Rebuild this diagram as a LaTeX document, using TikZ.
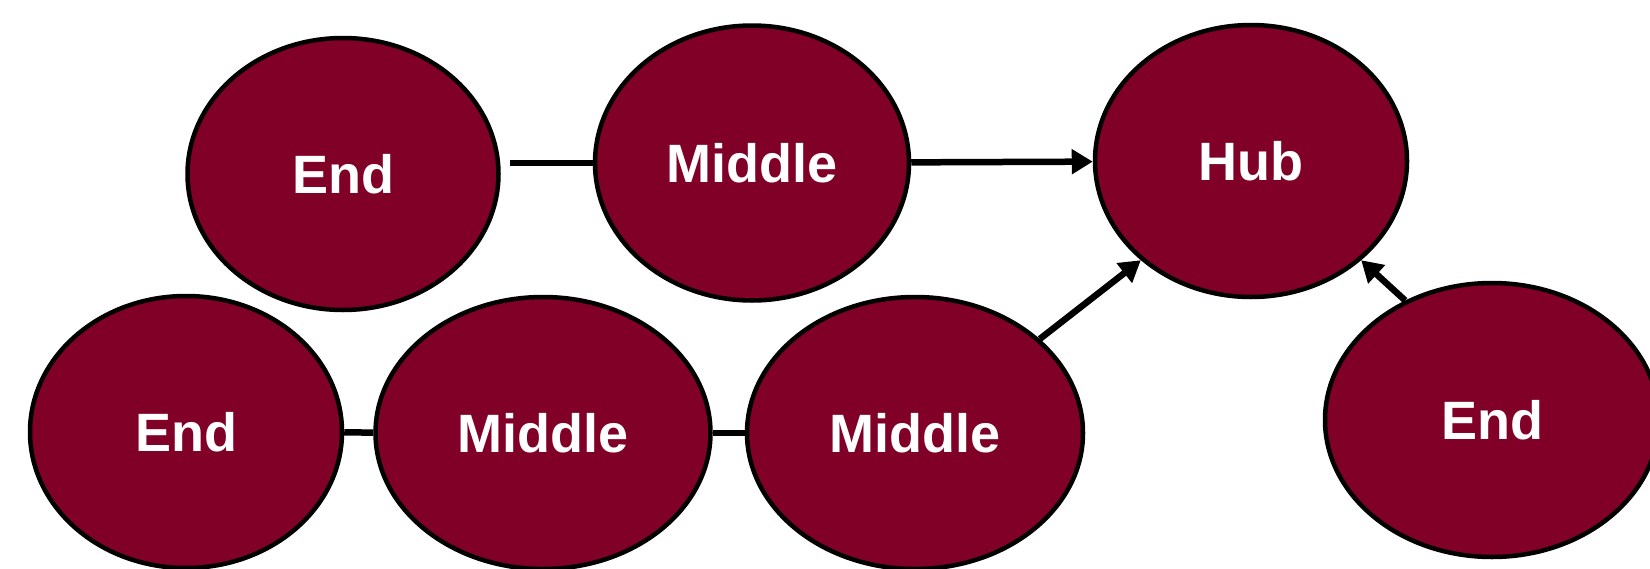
\documentclass[tikz,border=0pt]{standalone}
\usepackage{fontspec}
\setmainfont{Liberation Sans}
\usetikzlibrary{arrows.meta,shapes.geometric}
\definecolor{wine}{RGB}{128,0,40}
\begin{document}
\begin{tikzpicture}[x=1pt,y=-1pt,
  blob/.style={ellipse,draw=black,line width=4.5pt,fill=wine,text=white,
    inner sep=0pt,font=\fontsize{54}{60}\selectfont\bfseries},
  link/.style={line width=6.5pt,draw=black},
  arr/.style={link,-{Triangle[length=21pt,width=24pt]}}]
\useasboundingbox (0,0) rectangle (1650,568);
\node[blob,minimum width=311pt,minimum height=272pt] (e1) at (343,174) {End};
\node[blob,minimum width=314pt,minimum height=275pt] (m1) at (752,163) {Middle};
\node[blob,minimum width=312pt,minimum height=272pt] (hub) at (1251,161) {Hub};
\node[blob,minimum width=312pt,minimum height=272pt] (e2) at (186,432) {End};
\node[blob,minimum width=335pt,minimum height=272pt] (m2) at (543,433) {Middle};
\node[blob,minimum width=336pt,minimum height=272pt] (m3) at (915,433) {Middle};
\node[blob,minimum width=334pt,minimum height=274pt] (e3) at (1492,420) {End};
\draw[link,shorten <=9pt] (m1.west -| e1.east) -- (m1.west);
\draw[arr] (m1) -- (hub);
\draw[link] (e2) -- (m2);
\draw[link] (m2) -- (m3);
\draw[arr] (m3.37) -- (hub.222);
\draw[arr] (e3.126) -- (hub.318);
\end{tikzpicture}
\end{document}
